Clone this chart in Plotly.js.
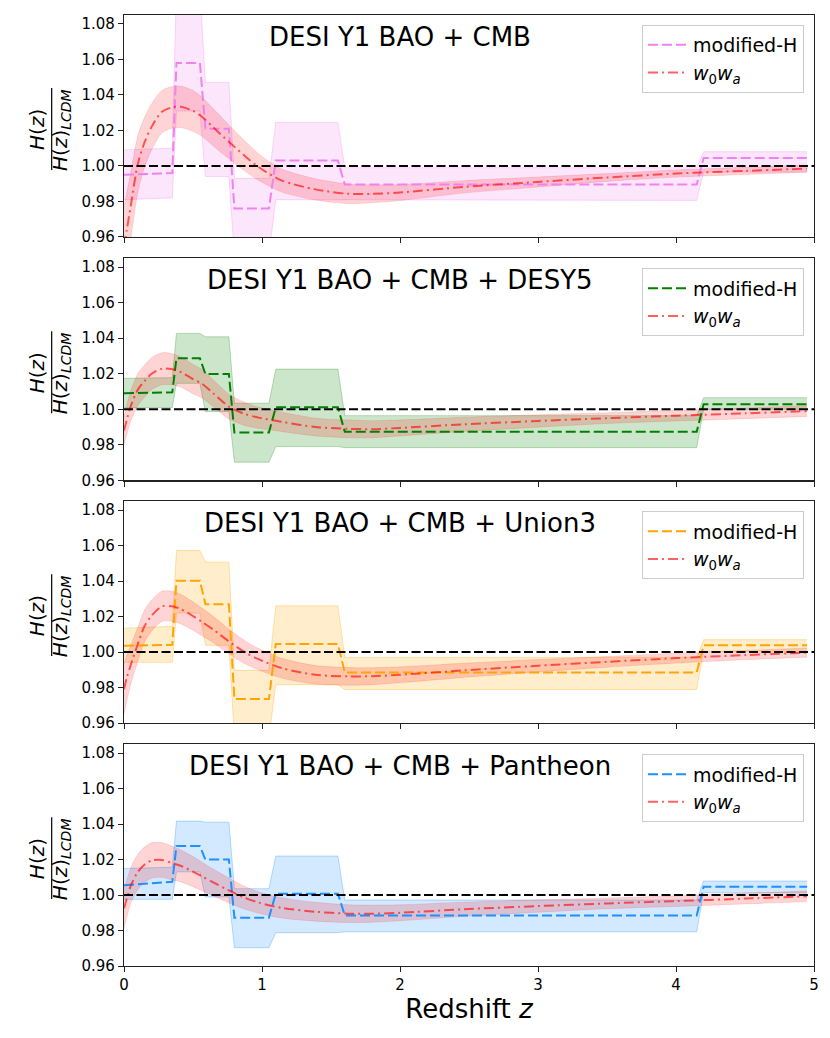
<!DOCTYPE html>
<html>
<head>
<meta charset="utf-8">
<script src="https://cdn.plot.ly/plotly-3.0.1.min.js"></script>
<style>
  html, body { margin: 0; padding: 0; background: #fff; }
  #chart { width: 830px; height: 1038px; }
</style>
</head>
<body>
<div id="chart"></div>
<script>
// redshift nodes of the binned (modified-H) reconstruction
var zBins = [0, 0.35, 0.38, 0.55, 0.59, 0.76, 0.80, 1.05, 1.10, 1.55, 1.60, 4.15, 4.20, 4.95];
// redshift nodes of the w0wa curve
var zW = [0, 0.02, 0.05, 0.1, 0.15, 0.2, 0.275, 0.35, 0.41, 0.5, 0.565, 0.65, 0.76, 0.87,
          0.975, 1.14, 1.386, 1.627, 1.8, 2.0, 2.46, 3.0, 3.5, 4.0, 4.5, 4.95];

var panelTitles = ["DESI Y1 BAO + CMB", "DESI Y1 BAO + CMB + DESY5",
                   "DESI Y1 BAO + CMB + Union3", "DESI Y1 BAO + CMB + Pantheon"];

// modified-H: mean, upper and lower edge of the band
var modH1 = [0.995, 0.996, 1.058, 1.058, 1.021, 1.021, 0.976, 0.976, 1.003, 1.003, 0.9895, 0.9895, 1.0045, 1.0045];
var modH1Up = [1.009, 1.010, 1.100, 1.100, 1.047, 1.047, 0.993, 0.993, 1.0245, 1.0245, 0.999, 0.999, 1.008, 1.008];
var modH1Lo = [0.981, 0.982, 1.031, 1.031, 0.994, 0.994, 0.950, 0.950, 0.981, 0.981, 0.9806, 0.9806, 0.9966, 0.9966];

var modH2 = [1.009, 1.0095, 1.0287, 1.0287, 1.0198, 1.0198, 0.9869, 0.9869, 1.0011, 1.0011, 0.9874, 0.9874, 1.0028, 1.0028];
var modH2Up = [1.0174, 1.0178, 1.0427, 1.0427, 1.0408, 1.0408, 1.0034, 1.0034, 1.0226, 1.0226, 0.9964, 0.9964, 1.0065, 1.0065];
var modH2Lo = [1.0009, 1.001, 1.0146, 1.0146, 0.9987, 0.9987, 0.9702, 0.9702, 0.979, 0.979, 0.9784, 0.9784, 1.0000, 1.0000];

var modH3 = [1.0036, 1.0041, 1.0402, 1.0402, 1.027, 1.027, 0.9735, 0.9735, 1.0045, 1.0045, 0.9885, 0.9885, 1.0038, 1.0038];
var modH3Up = [1.0135, 1.0145, 1.0573, 1.0573, 1.0507, 1.0507, 0.9897, 0.9897, 1.0261, 1.0261, 0.997, 0.997, 1.007, 1.007];
var modH3Lo = [0.9942, 0.9942, 1.022, 1.022, 1.0038, 1.0038, 0.952, 0.952, 0.9816, 0.9816, 0.9789, 0.9789, 1.0004, 1.0004];

var modH4 = [1.0056, 1.0075, 1.0276, 1.0276, 1.020, 1.020, 0.9872, 0.9872, 1.0008, 1.0008, 0.9885, 0.9885, 1.0047, 1.0047];
var modH4Up = [1.015, 1.0157, 1.0417, 1.0417, 1.0411, 1.0411, 1.0036, 1.0036, 1.022, 1.022, 0.9972, 0.9972, 1.0079, 1.0079];
var modH4Lo = [0.9976, 0.9976, 1.0131, 1.0131, 0.9989, 0.9989, 0.9703, 0.9703, 0.9788, 0.9788, 0.9793, 0.9793, 1.0013, 1.0013];

// w0wa: mean curve and half width of the band
var w1 = [0.955, 0.964, 0.978, 1.001, 1.0135, 1.022, 1.0305, 1.033, 1.0333, 1.031, 1.0277, 1.0215, 1.0136, 1.006,
          0.9994, 0.9919, 0.9868, 0.9843, 0.9843, 0.985, 0.9882, 0.991, 0.9935, 0.9957, 0.9972, 0.9985];
var w1Err = [0.022, 0.021, 0.019, 0.016, 0.014, 0.013, 0.012, 0.0117, 0.0117, 0.0115, 0.011, 0.0105, 0.0095, 0.0085,
             0.0075, 0.0065, 0.006, 0.0055, 0.005, 0.0045, 0.0035, 0.0028, 0.0022, 0.002, 0.002, 0.002];

var w2 = [0.988, 0.994, 1.002, 1.011, 1.016, 1.020, 1.0228, 1.0225, 1.021, 1.017, 1.0144, 1.0088, 1.0015, 0.9975,
          0.9953, 0.993, 0.990, 0.989, 0.9888, 0.9895, 0.9915, 0.9934, 0.995, 0.9964, 0.9977, 0.999];
var w2Err = [0.008, 0.0083, 0.0085, 0.009, 0.009, 0.009, 0.009, 0.0088, 0.0085, 0.0082, 0.008, 0.0075, 0.007, 0.0065,
             0.006, 0.0055, 0.005, 0.005, 0.0048, 0.0045, 0.004, 0.0035, 0.003, 0.003, 0.003, 0.003];

var w3 = [0.979, 0.9855, 0.993, 1.0045, 1.0148, 1.0205, 1.0258, 1.0258, 1.0243, 1.0203, 1.017, 1.0125, 1.006, 1.0002,
          0.996, 0.991, 0.9872, 0.9863, 0.9864, 0.9872, 0.9897, 0.9923, 0.9945, 0.9966, 0.9983, 0.9997];
var w3Err = [0.014, 0.013, 0.011, 0.0095, 0.009, 0.0087, 0.0085, 0.0085, 0.0083, 0.008, 0.0078, 0.0074, 0.007, 0.0065,
             0.006, 0.0056, 0.0052, 0.005, 0.0048, 0.0045, 0.004, 0.0035, 0.003, 0.0028, 0.0026, 0.0026];

var w4 = [0.9925, 0.998, 1.0055, 1.013, 1.0172, 1.0195, 1.0198, 1.018, 1.0165, 1.0132, 1.0105, 1.007, 1.0026, 0.9986,
          0.9958, 0.9928, 0.9906, 0.9895, 0.9895, 0.990, 0.992, 0.9938, 0.9953, 0.9966, 0.998, 0.9993];
var w4Err = [0.011, 0.0105, 0.01, 0.01, 0.01, 0.01, 0.0098, 0.0095, 0.009, 0.0085, 0.008, 0.0075, 0.007, 0.0065,
             0.006, 0.0057, 0.0053, 0.005, 0.0048, 0.0045, 0.004, 0.0035, 0.003, 0.003, 0.003, 0.003];

var modColors = ["#EE82EE", "#008000", "#FFA500", "#1E90FF"];
var modFills = ["rgba(238,130,238,0.2)", "rgba(0,128,0,0.2)", "rgba(255,165,0,0.2)", "rgba(30,144,255,0.2)"];
var modEdges = ["rgba(238,130,238,0.3)", "rgba(0,128,0,0.25)", "rgba(255,165,0,0.3)", "rgba(30,144,255,0.3)"];

var modMean = [modH1, modH2, modH3, modH4];
var modUp = [modH1Up, modH2Up, modH3Up, modH4Up];
var modLo = [modH1Lo, modH2Lo, modH3Lo, modH4Lo];
var wMean = [w1, w2, w3, w4];
var wErr = [w1Err, w2Err, w3Err, w4Err];

var font = "DejaVu Sans, Liberation Sans, sans-serif";
var redLine = "rgba(255,0,0,0.62)";
var redFill = "rgba(255,0,0,0.17)";
var redEdge = "rgba(255,0,0,0.12)";

var traces = [];
var layout = {
    width: 830,
    height: 1038,
    margin: {l: 124, r: 16, t: 15, b: 72},
    paper_bgcolor: "white",
    plot_bgcolor: "white",
    font: {family: font, size: 15, color: "black"},
    showlegend: true,
    annotations: [],
    shapes: []
};

// panel domains, top to bottom
var domains = [[0.7666, 1.0], [0.5107, 0.7442], [0.2555, 0.4886], [0.0, 0.2331]];
var legendTops = [0.9895, 0.7336, 0.4781, 0.2226];

for (let i = 0; i < 4; i++) {
    var n = i == 0 ? "" : String(i + 1);
    var xa = "x" + n, ya = "y" + n;
    var leg = "legend" + n;

    var lo = [], up = [];
    for (let k = 0; k < zW.length; k++) {
        lo.push(wMean[i][k] - wErr[i][k]);
        up.push(wMean[i][k] + wErr[i][k]);
    }

    // modified-H band
    traces.push({x: zBins, y: modLo[i], xaxis: xa, yaxis: ya, mode: "lines",
                 line: {color: modEdges[i], width: 1}, showlegend: false, hoverinfo: "skip"});
    traces.push({x: zBins, y: modUp[i], xaxis: xa, yaxis: ya, mode: "lines", fill: "tonexty",
                 fillcolor: modFills[i], line: {color: modEdges[i], width: 1},
                 showlegend: false, hoverinfo: "skip"});
    // w0wa band
    traces.push({x: zW, y: lo, xaxis: xa, yaxis: ya, mode: "lines",
                 line: {color: redEdge, width: 1, shape: "spline", smoothing: 0.8},
                 showlegend: false, hoverinfo: "skip"});
    traces.push({x: zW, y: up, xaxis: xa, yaxis: ya, mode: "lines", fill: "tonexty",
                 fillcolor: redFill, line: {color: redEdge, width: 1, shape: "spline", smoothing: 0.8},
                 showlegend: false, hoverinfo: "skip"});
    // lines
    traces.push({x: zBins, y: modMean[i], xaxis: xa, yaxis: ya, mode: "lines", name: "modified-H",
                 legend: leg, line: {color: modColors[i], width: 2, dash: "10px,4px"}});
    traces.push({x: zW, y: wMean[i], xaxis: xa, yaxis: ya, mode: "lines",
                 name: "<i>w</i><sub>0</sub><i>w</i><sub><i>a</i></sub>", legend: leg,
                 line: {color: redLine, width: 2, dash: "10px,4px,2px,4px", shape: "spline", smoothing: 0.8}});

    layout["xaxis" + n] = {
        domain: [0, 1], anchor: ya, range: [0, 5], dtick: 1, tick0: 0,
        showgrid: false, zeroline: false, showline: true, mirror: true,
        linecolor: "#222", linewidth: 1.2, ticks: "outside", ticklen: 5, tickcolor: "#222",
        showticklabels: i == 3, tickfont: {size: 15, family: font},
        matches: i == 0 ? undefined : "x"
    };
    layout["yaxis" + n] = {
        domain: domains[i], anchor: xa, range: [0.96, 1.085], tickvals: [0.96, 0.98, 1.00, 1.02, 1.04, 1.06, 1.08],
        tickformat: ".2f", showgrid: false, zeroline: false, showline: true, mirror: true,
        linecolor: "#222", linewidth: 1.2, ticks: "outside", ticklen: 5, tickcolor: "#222",
        tickfont: {size: 15, family: font}
    };
    layout[leg] = {
        x: 0.9855, xanchor: "right", y: legendTops[i], yanchor: "top", traceorder: "normal",
        bgcolor: "rgba(255,255,255,0.8)", bordercolor: "#cccccc", borderwidth: 1,
        font: {size: 19, family: font}, tracegroupgap: 0, itemwidth: 40
    };

    // LCDM reference line
    layout.shapes.push({type: "line", xref: xa + " domain", x0: 0, x1: 1, yref: ya, y0: 1, y1: 1,
                        line: {color: "black", width: 2, dash: "9px,3.5px"}});
    // fraction bar of the y label
    layout.shapes.push({type: "line", xref: "paper", x0: -0.1048, x1: -0.1048,
                        yref: ya + " domain", y0: 0.302, y1: 0.671,
                        line: {color: "black", width: 1.2}});

    layout.annotations.push({text: panelTitles[i], xref: xa, x: 2, yref: ya + " domain", y: 1,
                             yanchor: "top", yshift: -5, showarrow: false,
                             font: {size: 26, family: font, color: "black"}});
    layout.annotations.push({text: "<i>H</i>(<i>z</i>)", xref: "paper", x: 0, xanchor: "center", xshift: -87,
                             yref: ya + " domain", y: 0.482, yanchor: "middle", textangle: -90, showarrow: false,
                             font: {size: 20, family: font, color: "black"}});
    layout.annotations.push({text: "<i>H</i>(<i>z</i>)<sub><i>LCDM</i></sub>", xref: "paper", x: 0,
                             xanchor: "center", xshift: -63, yref: ya + " domain", y: 0.482, yanchor: "middle",
                             textangle: -90, showarrow: false,
                             font: {size: 20, family: font, color: "black"}});
}

layout.xaxis4.title = {text: "Redshift <i>z</i>", font: {size: 26, family: font}, standoff: 1};

Plotly.newPlot("chart", traces, layout, {displayModeBar: false, staticPlot: true});
</script>
</body>
</html>
